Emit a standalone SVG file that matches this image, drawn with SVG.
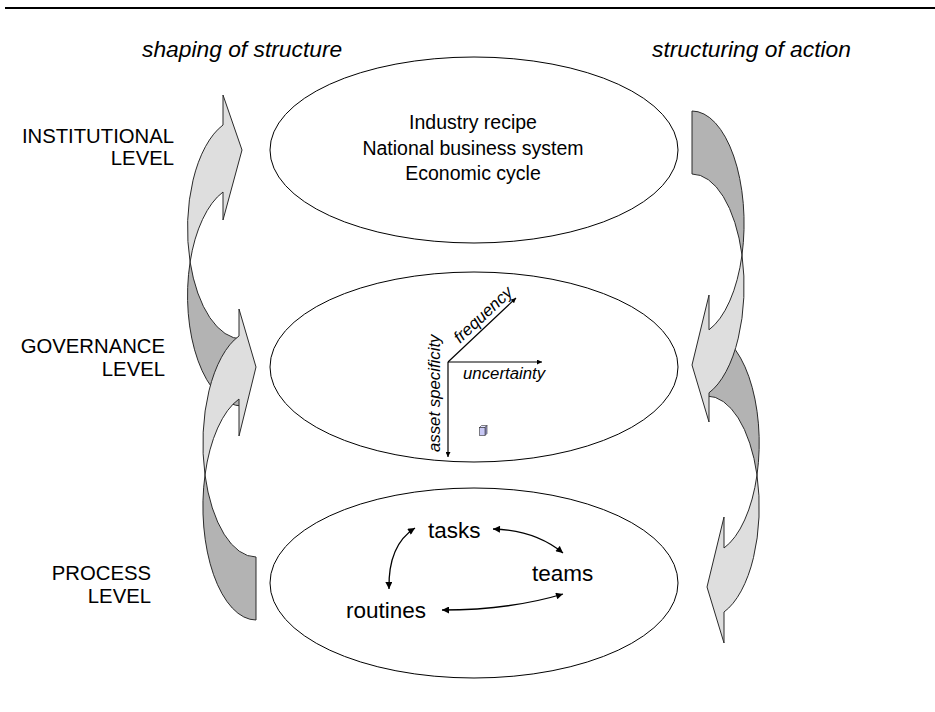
<svg xmlns="http://www.w3.org/2000/svg" width="935" height="712" viewBox="0 0 935 712">
<defs>
<style>
text{font-family:"Liberation Sans",Arial,sans-serif;fill:#000}
.ttl{font-size:22.8px;font-style:italic}
.lvl{font-size:20.3px;text-anchor:end}
.ell{fill:#fff;stroke:#000;stroke-width:1}
.inst{font-size:19.5px;text-anchor:middle}
.ax{font-size:16.8px;font-style:italic}
.proc{font-size:22.5px}
.lt{fill:#dedede;stroke:#2a2a2a;stroke-width:1;stroke-linejoin:miter}
.dk{fill:#b3b3b3;stroke:#2a2a2a;stroke-width:1;stroke-linejoin:miter}
.axl{fill:none;stroke:#000;stroke-width:1.2}
.pl{fill:none;stroke:#000;stroke-width:1.3}
</style>
<marker id="ah" viewBox="0 0 10 10" refX="10" refY="5" markerWidth="6" markerHeight="5" markerUnits="userSpaceOnUse" orient="auto-start-reverse">
<path d="M0,0 L10,5 L0,10 Z" fill="#000"/>
</marker>
<marker id="ph" viewBox="0 0 10 10" refX="10" refY="5" markerWidth="9" markerHeight="7" markerUnits="userSpaceOnUse" orient="auto-start-reverse">
<path d="M0,0 L10,5 L0,10 Z" fill="#000"/>
</marker>
</defs>
<rect width="935" height="712" fill="#fff"/>
<line x1="5" y1="8" x2="935" y2="8" stroke="#000" stroke-width="2"/>

<g id="titles">
<text class="ttl" x="142" y="57">shaping of structure</text>
<text class="ttl" x="652" y="57">structuring of action</text>
</g>

<g id="level-labels">
<text class="lvl" x="174" y="143">INSTITUTIONAL</text>
<text class="lvl" x="174" y="165">LEVEL</text>
<text class="lvl" x="165" y="353">GOVERNANCE</text>
<text class="lvl" x="165" y="376">LEVEL</text>
<text class="lvl" x="151" y="580">PROCESS</text>
<text class="lvl" x="151" y="603">LEVEL</text>
</g>

<g id="institutional-level">
<ellipse class="ell" cx="474" cy="150" rx="204" ry="93"/>
<text class="inst" x="473" y="129">Industry recipe</text>
<text class="inst" x="473" y="155">National business system</text>
<text class="inst" x="473" y="180">Economic cycle</text>
</g>

<g id="governance-level">
<ellipse class="ell" cx="474" cy="367" rx="204" ry="95"/>
<line class="axl" x1="448" y1="362" x2="542" y2="362" marker-end="url(#ah)"/>
<line class="axl" x1="448" y1="362" x2="516" y2="298" marker-end="url(#ah)"/>
<line class="axl" x1="448" y1="362" x2="448" y2="457" marker-end="url(#ah)"/>
<text class="ax" x="463" y="379">uncertainty</text>
<text class="ax" transform="translate(448,362) rotate(-43.2)" x="21" y="-5">frequency</text>
<text class="ax" transform="translate(440,452) rotate(-90)" x="0" y="0">asset specificity</text>
<g id="cube" stroke="#333" stroke-width="0.6">
<polygon points="479.5,427.5 481.5,425.5 487,425.5 485,427.5" fill="#e4e4ff"/>
<polygon points="485,427.5 487,425.5 487,433.5 485,435.5" fill="#9a9ad0"/>
<rect x="479.5" y="427.5" width="5.5" height="8" fill="#c8c8f5"/>
</g>
</g>

<g id="process-level">
<ellipse class="ell" cx="474" cy="583" rx="204" ry="95"/>
</g>
<g id="tasks"><text class="proc" x="428" y="538">tasks</text></g>
<g id="teams"><text class="proc" x="532" y="581">teams</text></g>
<g id="routines"><text class="proc" x="346" y="618">routines</text></g>

<g id="connectors">
<path class="pl" d="M415,528 Q388,545 389,589" marker-start="url(#ph)" marker-end="url(#ph)"/>
<path class="pl" d="M493,529 Q535,530 563,553" marker-start="url(#ph)" marker-end="url(#ph)"/>
<path class="pl" d="M442,610 Q510,610 563,594" marker-start="url(#ph)" marker-end="url(#ph)"/>

<g id="arrow-shaping-upper">
<path class="dk" d="M190.1,262 A54.5,110.5 0 0 0 242,406 L242,339 A54.5,110.5 0 0 1 190.1,262 Z"/>
<path class="lt" d="M223,125 L223,95 L242,150 L223,220 L223,192 A54.5,110.5 0 0 0 190.1,262 A54.5,110.5 0 0 1 223,125 Z"/>
</g>
<g id="arrow-shaping-lower">
<path class="dk" d="M205,475 A53.1,113.5 0 0 0 256,620 L256,557 A53.1,113.5 0 0 1 205,475 Z"/>
<path class="lt" d="M239,336 L239,309 L256,367 L239,436 L239,399 A53.1,113.5 0 0 0 205,475 A53.1,113.5 0 0 1 239,336 Z"/>
</g>
<g id="arrow-structuring-lower">
<path class="dk" d="M707,332 A52.2,111 0 0 1 757,475 A52.2,111 0 0 0 707,396 Z"/>
<path class="lt" d="M757,475 A52.2,111 0 0 1 724,548 L724,517 L707,587 L724,643 L724,612 A52.2,111 0 0 0 757,475 Z"/>
</g>
<g id="arrow-structuring-upper">
<path class="dk" d="M692,111 A52.1,112.5 0 0 1 742,255 A52.1,112.5 0 0 0 692,174 Z"/>
<path class="lt" d="M742,255 A52.1,112.5 0 0 1 709,329.8 L709,295 L692,365 L709,422 L709,392.8 A52.1,112.5 0 0 0 742,255 Z"/>
</g>
</g>
</svg>
